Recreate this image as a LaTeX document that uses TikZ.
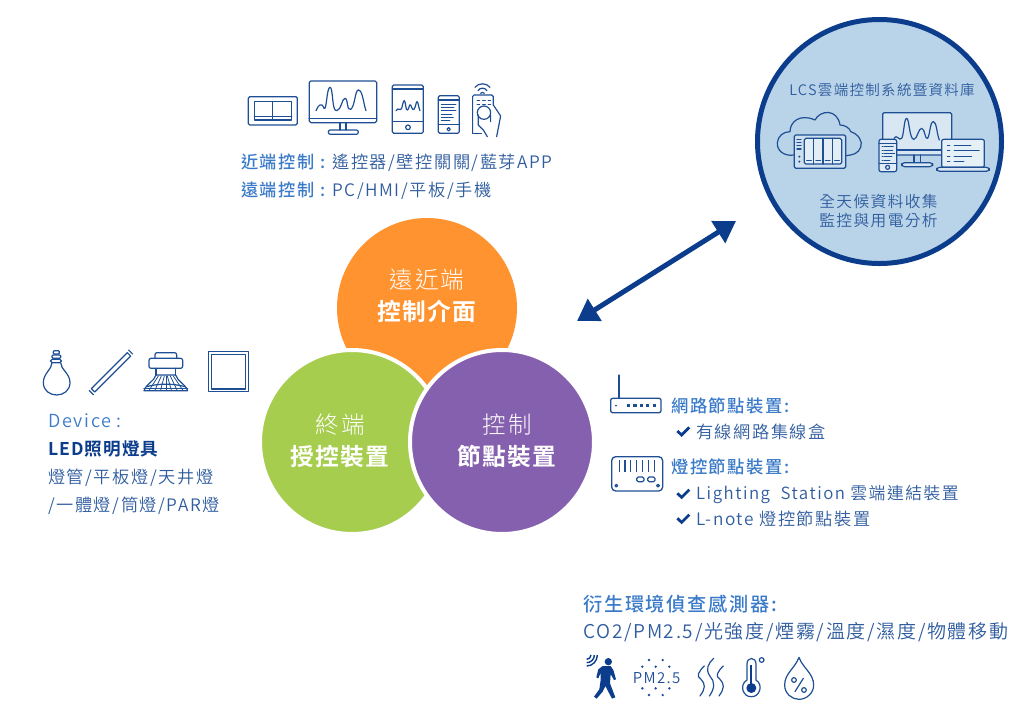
\documentclass[tikz,border=0pt]{standalone}
\usepackage{fontspec}
\usetikzlibrary{arrows.meta}
\setmainfont{Noto Sans CJK TC DemiLight}[LetterSpace=9]
\newfontfamily\lightf{Noto Sans CJK TC Light}[LetterSpace=9]
\newfontfamily\medf{Noto Sans CJK TC Medium}[LetterSpace=9]
\newfontfamily\boldf{Noto Sans CJK TC Bold}[LetterSpace=6]
\definecolor{navy}{HTML}{0B3D8C}
\definecolor{iconblue}{HTML}{1E4E94}
\definecolor{headblue}{HTML}{3A7AC8}
\definecolor{bodyblue}{HTML}{2F5C9E}
\definecolor{orangec}{HTML}{FF9330}
\definecolor{greenc}{HTML}{A6CD4E}
\definecolor{purplec}{HTML}{8560AE}
\definecolor{cloudc}{HTML}{B9D3E8}
\tikzset{
 x=1pt,y=-1pt,
 ic/.style={draw=iconblue,line width=1.2pt,line join=round,line cap=round},
 txt/.style={inner sep=0pt,anchor=base west,text=bodyblue,font=\fontsize{17.2}{17}\selectfont},
 hd/.style={inner sep=0pt,anchor=base west,text=headblue,font=\fontsize{17.3}{17}\medf},
 ctr/.style={inner sep=0pt,anchor=base,text=white},
 big/.style={font=\fontsize{23.5}{23}\lightf},
 bigb/.style={font=\fontsize{23.7}{23}\boldf},
 bubble/.style={circle,inner sep=0pt,minimum size=180pt,draw=white,line width=4pt},
 chk/.style={draw=navy,line width=2.8pt,line join=miter},
}
\begin{document}
\begin{tikzpicture}
\useasboundingbox (0,0) rectangle (1023,713);
% ---- venn circles
\node[bubble,fill=orangec,draw=none] (orange) at (427,308) {};
\node[bubble,fill=greenc,minimum size=184pt] (green) at (352,442) {};
\node[bubble,fill=purplec,minimum size=184pt] (purple) at (502,442) {};
\node[ctr,big] (o1) at (427,288) {遠近端};
\node[ctr,bigb] (o2) at (427,320) {控制介面};
\node[ctr,big] (g1) at (340,433) {終端};
\node[ctr,bigb] (g2) at (340,465) {授控裝置};
\node[ctr,big] (p1) at (507,433) {控制};
\node[ctr,bigb] (p2) at (507,465) {節點裝置};
% ---- arrow
\coordinate (a1) at (577,321);
\coordinate (a2) at (736,221);
\draw[navy,line width=5pt,{Triangle[length=21pt,width=25pt]}-{Triangle[length=21pt,width=25pt]}] (a1) -- (a2);
% ---- cloud circle
\node[circle,inner sep=0pt,minimum size=244pt,fill=cloudc,draw=navy,line width=5pt] (cloud) at (879.5,141.5) {};
\node[txt,anchor=base,font=\fontsize{14.5}{14}\selectfont] (c1) at (882,95) {LCS雲端控制系統暨資料庫};
\node[txt,anchor=base,font=\fontsize{15.7}{15}\selectfont] (c2) at (878.5,207) {全天候資料收集};
\node[txt,anchor=base,font=\fontsize{15.7}{15}\selectfont] (c3) at (878.5,226) {監控與用電分析};
\begin{scope}[shift={(750,10)},scale=0.3333]
 \draw[ic] (133,435) .. controls (100,440) and (80,420) .. (82,398) .. controls (84,378) and (100,365) .. (120,365) .. controls (120,335) and (150,310) .. (195,330) .. controls (210,300) and (262,295) .. (270,345) .. controls (285,345) and (300,355) .. (302,365) .. controls (325,372) and (340,395) .. (332,412) .. controls (325,430) and (310,435) .. (288,437);
 \draw[ic,fill=white!30!cloudc,rounded corners=1.5pt] (133,375) rectangle (287,475);
 \draw[ic,fill=white!60!cloudc,rounded corners=1.5pt] (163,385) rectangle (275,462);
 \foreach \x in {191,219,247} \draw[ic] (\x,385) -- (\x,462);
 \foreach \x in {170,198,226,254} \draw[ic] (\x,451) -- (\x+14,451);
 \foreach \y in {388,397,407,417} \draw[ic] (141,\y) -- (153,\y);
 \fill[iconblue] (148,440) circle (3.5) (148,455) circle (3.5);
 % monitor
 \draw[ic,fill=white!45!cloudc,rounded corners=1.5pt] (398,308) rectangle (605,435);
 \draw[ic,line width=1.8pt] (398,420) -- (605,420);
 \draw[ic] (492,435) -- (492,458) (512,435) -- (512,458);
 \draw[ic,fill=white!45!cloudc,rounded corners=3pt] (455,458) rectangle (548,470);
 \draw[ic] (432,385) .. controls (440,370) and (448,395) .. (455,385) .. controls (462,375) and (462,325) .. (470,325) .. controls (478,325) and (478,390) .. (492,388) .. controls (503,385) and (505,355) .. (515,355) .. controls (525,355) and (525,392) .. (533,385) .. controls (540,375) and (540,335) .. (550,335) .. controls (560,335) and (560,370) .. (568,390);
 % phone
 \draw[ic,fill=white!55!cloudc,rounded corners=2pt] (387,388) rectangle (440,485);
 \draw[ic] (387,400) -- (440,400) (387,460) -- (440,460);
 \draw[ic] (413,472) circle (6);
 \foreach \y/\w in {410/30,420/28,430/34,440/26,450/20} {\draw[ic,line width=0.7pt] (396,\y) -- (400,\y); \draw[ic,line width=0.7pt] (403,\y) -- (400+\w,\y);}
 % laptop
 \draw[ic,fill=white!65!cloudc,rounded corners=2pt] (575,388) rectangle (703,472);
 \draw[ic,fill=white!45!cloudc,rounded corners=3pt] (560,472) rectangle (718,484);
 \foreach \y/\w in {407/663,422/688,438/665,454/642} {\draw[ic,line width=0.8pt] (592,\y) -- (600,\y); \draw[ic,line width=0.8pt] (612,\y) -- (\w,\y);}
\end{scope}
% ---- top icons
\begin{scope}[shift={(230,70)},scale=0.3333]
 \draw[ic,rounded corners=1.5pt] (55,80) rectangle (202,165);
 \draw[ic] (73,95) rectangle (185,150) (128,95) -- (128,150) (73,140) -- (185,140);
 \draw[ic,rounded corners=1.5pt] (238,33) rectangle (440,158);
 \draw[ic,line width=1.6pt] (238,145) -- (440,145);
 \draw[ic] (330,158) -- (330,180) (348,158) -- (348,180);
 \draw[ic,rounded corners=2pt] (295,180) rectangle (385,193);
 \draw[ic] (258,122) .. controls (265,105) and (275,95) .. (282,115) .. controls (290,125) and (290,52) .. (300,52) .. controls (310,52) and (305,125) .. (320,122) .. controls (335,120) and (335,85) .. (345,85) .. controls (355,85) and (350,125) .. (362,118) .. controls (375,110) and (375,60) .. (385,60) .. controls (398,60) and (400,100) .. (408,122);
 \draw[ic,rounded corners=1.5pt] (487,45) rectangle (580,190);
 \draw[ic] (487,57) -- (580,57) (487,155) -- (580,155);
 \draw[ic] (534,172) circle (7);
 \draw[ic] (498,122) .. controls (505,110) and (510,125) .. (515,115) .. controls (518,105) and (520,92) .. (523,92) .. controls (527,92) and (527,125) .. (533,120) .. controls (538,115) and (538,100) .. (542,105) .. controls (546,110) and (546,122) .. (552,118) .. controls (558,110) and (558,95) .. (561,95) .. controls (565,95) and (566,115) .. (570,122);
 \draw[ic,rounded corners=1.5pt] (625,77) rectangle (688,190);
 \draw[ic] (625,90) -- (688,90) (625,163) -- (688,163);
 \draw[ic] (656,178) circle (5);
 \foreach \y/\w in {102/678,112/672,122/678,132/666,142/670,152/660} {\draw[ic,line width=0.8pt] (634,\y) -- (\w,\y);}
 \draw[ic] (728,190) -- (728,80) [rounded corners=1.5pt] -- (728,75) -- (790,75) -- (790,105);
 \draw[ic] (728,190) -- (755,190);
 \draw[ic] (762,128) circle (20);
 \draw[ic] (745,135) -- (745,165) -- (760,180) -- (772,200);
 \draw[ic] (782,135) -- (782,155) (790,105) -- (812,138) -- (800,200);
 \foreach \x in {745,762,778} {\foreach \y in {90,102} \draw[ic,line width=0.9pt] (\x-4,\y) -- (\x+4,\y);}
 \draw[ic] (744,62) .. controls (750,52) and (765,52) .. (771,62);
 \draw[ic] (735,52) .. controls (745,38) and (770,38) .. (780,52);
 \draw[ic] (752,70) .. controls (755,66) and (760,66) .. (763,70);
\end{scope}
\node[txt] (t1) at (241,168) {{\medf\color{headblue}近端控制 :} 遙控器/壁控關關/藍芽APP};
\node[txt] (t2) at (241,196) {{\medf\color{headblue}遠端控制 :} PC/HMI/平板/手機};
% ---- left icons
\begin{scope}[shift={(30,340)},scale=0.3333]
 \draw[ic] (66,68) .. controls (66,88) and (40,100) .. (40,128) .. controls (40,152) and (60,165) .. (80,165) .. controls (100,165) and (120,152) .. (120,128) .. controls (120,100) and (92,88) .. (92,68);
 \draw[ic,rounded corners=1.5pt] (62,58) rectangle (94,68);
 \draw[ic,rounded corners=1pt] (66,45) rectangle (92,55);
 \draw[ic,rounded corners=1pt] (70,32) rectangle (88,42);
 \draw[ic] (184,146) -- (292,38) -- (302,48) -- (194,156) -- cycle;
 \draw[ic] (178,152) -- (190,164) (296,30) -- (308,42);
 \draw[ic,rounded corners=2pt] (375,55) -- (375,38) -- (440,38) -- (440,55);
 \draw[ic,rounded corners=2pt] (357,55) rectangle (458,85);
 \draw[ic] (378,85) -- (378,105) (437,85) -- (437,105);
 \draw[ic] (378,105) .. controls (372,125) and (350,130) .. (342,152) -- (473,152) .. controls (465,130) and (443,125) .. (437,105) -- cycle;
 \foreach \a/\b in {385/358,394/375,403/392,408/408,412/424,421/441,430/458} \draw[ic,line width=0.8pt] (\a,108) -- (\b,150);
 \draw[ic] (350,140) .. controls (385,130) and (430,130) .. (465,140);
 \draw[ic,line width=1.3pt] (342,145) -- (473,145);
 \draw[ic] (535,35) rectangle (655,155);
 \draw[ic,line width=1.4pt] (545,43) rectangle (647,147);
\end{scope}
\node[txt,text=headblue,font=\fontsize{18}{18}\selectfont] (d1) at (48,427) {Device :};
\node[txt,text=navy,font=\fontsize{17.6}{17}\boldf] (d2) at (48,455) {LED照明燈具};
\node[txt] (d3) at (48,483) {燈管/平板燈/天井燈};
\node[txt] (d4) at (48,511) {/一體燈/筒燈/PAR燈};
% ---- right block
\begin{scope}[shift={(600,365)},scale=0.3333]
 \draw[ic,line width=1.3pt] (57,30) -- (57,100);
 \draw[ic,line width=1.3pt,rounded corners=2pt] (32,100) rectangle (183,143);
 \fill[iconblue] (48,122) circle (3);
 \foreach \x in {85,105,125,143,163} \fill[iconblue] (\x-5,117) rectangle (\x+5,127);
 \draw[ic,line width=1.3pt,rounded corners=4pt] (35,275) rectangle (188,378);
 \foreach \x in {58,75,92,110,127,145,163} \draw[ic,line width=1.3pt,line cap=butt] (\x,285) -- (\x,322);
 \draw[ic,rounded corners=1.5pt] (110,336) rectangle (132,350) (143,336) rectangle (165,350);
 \draw[ic] (49,362) circle (4) (174,362) circle (4);
 \draw[chk] (232,198) -- (245,210) -- (268,187);
 \draw[chk] (232,385) -- (245,397) -- (268,374);
 \draw[chk] (232,460) -- (245,472) -- (268,449);
\end{scope}
\node[hd] (r1) at (671,412) {網路節點裝置:};
\node[txt] (r2) at (696,438) {有線網路集線盒};
\node[hd] (r3) at (671,473) {燈控節點裝置:};
\node[txt,font=\fontsize{16.8}{17}\selectfont] (r4) at (696,499) {Lighting\ \ Station 雲端連結裝置};
\node[txt] (r5) at (696,525) {L-note 燈控節點裝置};
% ---- sensors
\node[hd,font=\fontsize{19.2}{19}\medf] (s1) at (583,611) {衍生環境偵查感測器:};
\node[txt,font=\fontsize{19}{19}\selectfont] (s2) at (583,638) {CO2/PM2.5/光強度/煙霧/溫度/濕度/物體移動};
\begin{scope}[shift={(580,650)},scale=0.3333]
 \fill[navy] (85,35) circle (11);
 \fill[navy] (68,48) -- (92,48) -- (100,60) -- (108,88) -- (102,90) -- (92,72) -- (90,100) -- (106,142) -- (96,146) -- (76,108) -- (68,125) -- (50,146) -- (42,140) -- (58,118) -- (62,90) -- (62,68) -- (55,85) -- (49,82) -- (55,58) -- cycle;
 \draw[navy,line width=1.4pt] (20,28) .. controls (27,28) and (33,22) .. (33,15);
 \draw[navy,line width=1.4pt] (20,38) .. controls (33,38) and (43,28) .. (43,15);
 \draw[navy,line width=1.4pt] (20,48) .. controls (38,48) and (52,33) .. (52,15);
 \node[inner sep=0pt,text=iconblue,font=\fontsize{15}{15}\selectfont] (pm) at (230,85) {PM2.5};
 \foreach \x/\y in {207/30,248/30,187/50,227/50,268/50,187/115,227/115,268/115,207/135,248/135}
   \fill[iconblue] (\x,\y) circle (4);
 \foreach \x/\t in {365/48,393/25,422/48} \draw[ic] (\x+8,\t) .. controls (\x-8,\t+15) and (\x-18,\t+32) .. (\x-3,70+\t*0.35) .. controls (\x+12,85+\t*0.35) and (\x+12,115) .. (\x-5,138);
 \draw[ic] (501,90) -- (501,42) .. controls (501,20) and (528,20) .. (528,42) -- (528,90) .. controls (552,105) and (538,142) .. (514,140) .. controls (490,142) and (476,105) .. (501,90);
 \fill[navy] (514,114) circle (15);
 \draw[navy,line width=2.2pt] (514,110) -- (514,45);
 \draw[ic] (545,30) circle (7);
 \draw[ic] (657,22) .. controls (645,55) and (614,70) .. (614,105) .. controls (614,130) and (635,148) .. (657,148) .. controls (679,148) and (701,130) .. (701,105) .. controls (701,70) and (669,55) .. (657,22) -- cycle;
 \draw[ic] (645,125) -- (670,85);
 \draw[ic] (642,90) circle (7) (672,120) circle (7);
\end{scope}
\end{tikzpicture}
\end{document}
